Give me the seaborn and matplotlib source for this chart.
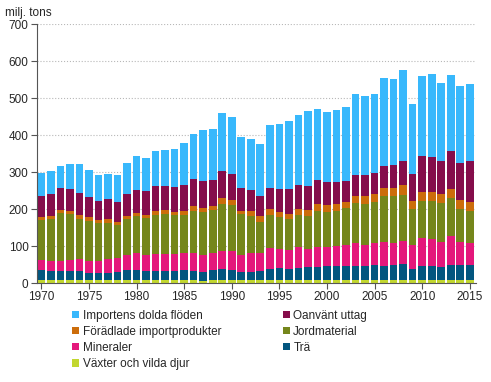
import numpy as np
import pandas as pd
import seaborn as sns
import matplotlib.pyplot as plt
from matplotlib.patches import Patch

years = list(range(1970, 2016))

# segment values, million tons (bottom to top)
vaxter = [9] * 17 + [5] + [9] * 28
tra = [27, 24, 24, 24, 24, 19, 19, 19, 22, 27, 27, 24, 24, 24, 24, 27, 24, 26, 27, 30,
       27, 22, 22, 24, 30, 32, 30, 32, 35, 35, 38, 38, 38, 38, 38, 41, 38, 41, 43, 30,
       38, 38, 35, 41, 41, 41]
mineraler = [27, 27, 27, 30, 32, 32, 32, 38, 38, 41, 46, 43, 46, 46, 46, 46, 49, 46, 46, 49,
             51, 46, 49, 49, 57, 51, 51, 57, 49, 54, 51, 54, 57, 62, 57, 57, 65, 57, 62, 65,
             76, 73, 68, 76, 62, 59]
jord = [108, 114, 130, 124, 108, 108, 103, 95, 88, 97, 100, 100, 105, 108, 105, 103, 114, 116, 116, 127,
        124, 111, 100, 84, 89, 86, 84, 86, 89, 97, 95, 95, 100, 108, 111, 111, 122, 127, 124, 97,
        100, 103, 105, 105, 89, 86]
foradlade = [8, 8, 8, 8, 11, 11, 8, 11, 9, 8, 8, 8, 11, 11, 8, 11, 11, 11, 11, 14,
             14, 8, 14, 14, 14, 14, 14, 16, 16, 19, 19, 19, 16, 19, 19, 22, 24, 24, 27, 22,
             24, 24, 24, 24, 24, 24]
oanvant = [57, 59, 59, 59, 59, 54, 51, 54, 54, 59, 62, 65, 68, 65, 68, 68, 73, 73, 70, 73,
           70, 62, 57, 54, 59, 62, 65, 65, 65, 65, 62, 57, 57, 57, 57, 57, 59, 62, 65, 73,
           97, 95, 89, 103, 100, 111]
importens = [62, 62, 59, 68, 78, 73, 70, 68, 73, 84, 92, 89, 95, 97, 103, 114, 122, 138, 138, 157,
             154, 138, 138, 141, 168, 176, 186, 189, 203, 192, 189, 197, 200, 219, 214, 214, 238, 232, 246, 189,
             216, 222, 211, 205, 208, 208]

series = ['Importens dolda flöden', 'Oanvänt uttag', 'Förädlade importprodukter',
          'Jordmaterial', 'Mineraler', 'Trä', 'Växter och vilda djur']
values = [importens, oanvant, foradlade, jord, mineraler, tra, vaxter]
colors = ['#38b8fc', '#850d4b', '#cc6d0b', '#75861b', '#e4187b', '#03567f', '#c2d72f']

rows = []
for name, vals in zip(series, values):
    for y, v in zip(years, vals):
        rows.append({'year': y, 'serie': name, 'value': v})
df = pd.DataFrame(rows)

sns.set_style('white')
plt.rcParams['font.family'] = ['Liberation Sans', 'DejaVu Sans']

fig = plt.figure(figsize=(4.91, 3.82), dpi=100)
ax = fig.add_axes([0.075, 0.259, 0.894, 0.678])

sns.histplot(data=df, x='year', weights='value', hue='serie', hue_order=series,
             palette=colors, multiple='stack', discrete=True, shrink=0.8,
             alpha=1, linewidth=0, legend=False, ax=ax)

ax.set_xlim(1969.53, 2015.63)
ax.set_ylim(0, 700)
ax.set_yticks(range(0, 701, 100))
ax.set_xticks(range(1970, 2016, 5))
ax.set_xlabel('')
ax.set_ylabel('')
ax.yaxis.grid(True, linestyle=':', color='#b8b8b8', linewidth=0.8)
ax.set_axisbelow(True)
for s in ['top', 'right']:
    ax.spines[s].set_visible(False)
ax.spines['left'].set_color('#555555')
ax.spines['bottom'].set_color('#555555')
ax.tick_params(axis='both', labelsize=8.5, length=4, color='#555555', direction='out',
               bottom=True, left=True, pad=2)

fig.text(0.01, 0.965, 'milj. tons', fontsize=8.5, va='center')

# legend filled row by row like the original
order = [0, 2, 4, 6, 1, 3, 5]
handles = [Patch(facecolor=colors[i], edgecolor='none') for i in order]
labels = [series[i] for i in order]
fig.legend(handles, labels, loc='upper left', bbox_to_anchor=(0.135, 0.205), ncol=2,
           frameon=False, fontsize=8.5, handlelength=0.6, handleheight=0.6,
           handletextpad=0.3, columnspacing=5.2, labelspacing=0.35, borderpad=0)

plt.savefig('out.png', dpi=100)
